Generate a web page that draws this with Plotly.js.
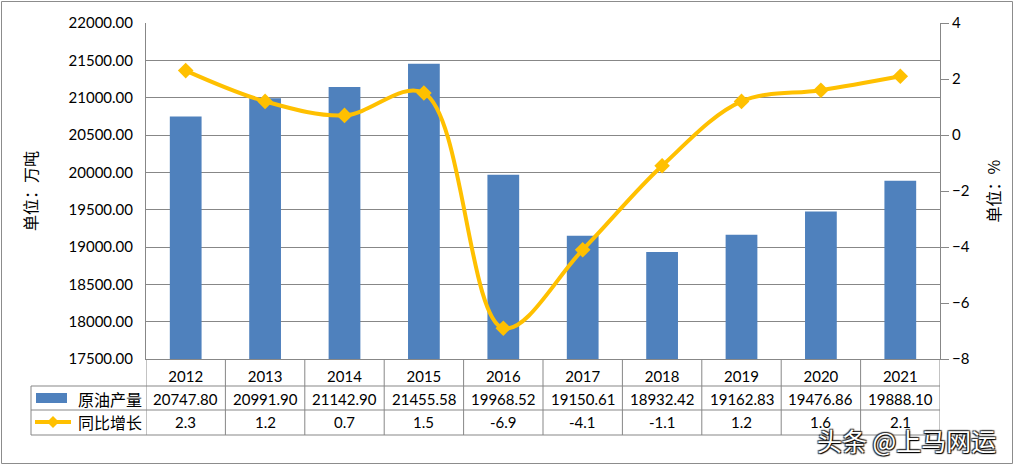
<!DOCTYPE html>
<html>
<head>
<meta charset="utf-8">
<script src="https://cdn.plot.ly/plotly-3.0.1.min.js"></script>
<style>
html,body{margin:0;padding:0;background:#fff;}
#chart{width:1014px;height:467px;}
</style>
</head>
<body>
<div id="chart"></div>
<script>
// ---- data ----
const categories = ['2012','2013','2014','2015','2016','2017','2018','2019','2020','2021'];
const production = [20747.80, 20991.90, 21142.90, 21455.58, 19968.52, 19150.61, 18932.42, 19162.83, 19476.86, 19888.10];
const growth = [2.3, 1.2, 0.7, 1.5, -6.9, -4.1, -1.1, 1.2, 1.6, 2.1];
const seriesNames = ['原油产量', '同比增长'];
const leftTitle = '单位：万吨';
const rightTitle = '单位：%';
const watermark = '头条 @上马网运';

// ---- layout helpers ----
const W = 1014, H = 467;
const mL = 146, mR = 74, mT = 23, mB = 108;
const pw = W - mL - mR, ph = H - mT - mB;
const px = v => (v - mL) / pw;           // pixel x -> paper x
const py = v => (H - mB - v) / ph;       // pixel y -> paper y

const BLUE = '#4F81BD', GOLD = '#FFC000', GRID = '#878787';
const NUMFONT = 'Lato, "Noto Sans CJK SC", sans-serif';
const CJKFONT = '"Noto Sans CJK SC", sans-serif';

const traces = [
  {
    type: 'bar', x: categories, y: production, name: seriesNames[0],
    marker: {color: BLUE}, yaxis: 'y', hoverinfo: 'skip'
  },
  {
    type: 'scatter', mode: 'lines+markers', x: categories, y: growth, name: seriesNames[1],
    yaxis: 'y2', line: {color: GOLD, width: 4, shape: 'spline', smoothing: 1},
    marker: {symbol: 'diamond', size: 12, color: GOLD}, hoverinfo: 'skip', cliponaxis: false
  }
];

// table rows
const rowY = {r1: py(398.5), r2: py(422)};
const bY = [py(359), py(386), py(410), py(435)];
const annotations = [];
production.forEach((v, i) => {
  annotations.push({x: i, xref: 'x', y: rowY.r1, yref: 'paper', text: v.toFixed(2),
    showarrow: false, xanchor: 'center', yanchor: 'middle', font: {family: NUMFONT, size: 15, color: '#000'}});
});
growth.forEach((v, i) => {
  annotations.push({x: i, xref: 'x', y: rowY.r2, yref: 'paper', text: v.toFixed(1),
    showarrow: false, xanchor: 'center', yanchor: 'middle', font: {family: NUMFONT, size: 15, color: '#000'}});
});
// legend labels in table
annotations.push({x: px(76), xref: 'paper', y: rowY.r1, yref: 'paper', text: seriesNames[0], showarrow: false,
  xanchor: 'left', yanchor: 'middle', font: {family: CJKFONT, size: 16, color: '#000'}});
annotations.push({x: px(76), xref: 'paper', y: rowY.r2, yref: 'paper', text: seriesNames[1], showarrow: false,
  xanchor: 'left', yanchor: 'middle', font: {family: CJKFONT, size: 16, color: '#000'}});
// watermark
annotations.push({x: px(906), xref: 'paper', y: py(440), yref: 'paper', text: watermark, showarrow: false,
  xanchor: 'center', yanchor: 'middle',
  font: {family: CJKFONT, size: 25, color: '#ffffff', shadow: '1px 1px 1px #000, -1px -1px 1px #333, 1px -1px 1px #333, -1px 1px 1px #333'}});

const shapes = [];
const ln = {color: GRID, width: 1};
// vertical lines of table (category boundaries)
for (let i = 0; i <= categories.length; i++) {
  shapes.push({type: 'line', xref: 'x', yref: 'paper', x0: i - 0.5, x1: i - 0.5, y0: bY[0], y1: bY[3], line: ln});
}
// legend column left edge
shapes.push({type: 'line', xref: 'paper', yref: 'paper', x0: px(31), x1: px(31), y0: bY[1], y1: bY[3], line: ln});
// horizontal lines
[1, 2, 3].forEach(k => {
  shapes.push({type: 'line', xref: 'paper', yref: 'paper', x0: px(31), x1: 1, y0: bY[k], y1: bY[k], line: ln});
});
// legend symbols
shapes.push({type: 'rect', xref: 'paper', yref: 'paper', x0: px(36), x1: px(67), y0: py(403), y1: py(393),
  line: {width: 0}, fillcolor: BLUE});
shapes.push({type: 'line', xref: 'paper', yref: 'paper', x0: px(35), x1: px(71), y0: py(422), y1: py(422),
  line: {color: GOLD, width: 4}});
const dc = [53, 422], dr = 6;
shapes.push({type: 'path', xref: 'paper', yref: 'paper',
  path: `M ${px(dc[0]-dr)} ${py(dc[1])} L ${px(dc[0])} ${py(dc[1]-dr)} L ${px(dc[0]+dr)} ${py(dc[1])} L ${px(dc[0])} ${py(dc[1]+dr)} Z`,
  fillcolor: GOLD, line: {width: 0}});
// outer border
shapes.push({type: 'rect', xref: 'paper', yref: 'paper', x0: px(1.5), x1: px(1012.5), y0: py(463.5), y1: py(1.5),
  line: {color: '#8c8c8c', width: 1}, fillcolor: 'rgba(0,0,0,0)'});

const layout = {
  width: W, height: H,
  margin: {l: mL, r: mR, t: mT, b: mB, pad: 0},
  paper_bgcolor: '#fff', plot_bgcolor: '#fff',
  showlegend: false,
  bargap: 0.6,
  font: {family: NUMFONT, size: 15, color: '#000'},
  xaxis: {
    type: 'category', range: [-0.5, categories.length - 0.5], autorange: false,
    showgrid: false, zeroline: false,
    showline: true, linecolor: GRID, linewidth: 1,
    ticks: '', ticklabelstandoff: 4,
    tickfont: {family: NUMFONT, size: 15, color: '#000'},
    fixedrange: true
  },
  yaxis: {
    range: [17500, 22000], autorange: false, dtick: 500, tick0: 17500, tickformat: '.2f',
    showgrid: true, gridcolor: GRID, gridwidth: 1, zeroline: false,
    showline: true, linecolor: GRID, linewidth: 1,
    ticks: 'outside', ticklen: 9, tickcolor: 'rgba(0,0,0,0)',
    tickfont: {family: NUMFONT, size: 15, color: '#000'},
    title: {text: leftTitle, font: {family: CJKFONT, size: 16, color: '#000'}, standoff: 26},
    fixedrange: true
  },
  yaxis2: {
    overlaying: 'y', side: 'right',
    range: [-8, 4], autorange: false, dtick: 2, tick0: -8,
    showgrid: false, zeroline: false,
    showline: true, linecolor: GRID, linewidth: 1,
    ticks: 'outside', ticklen: 8, tickcolor: GRID,
    tickfont: {family: NUMFONT, size: 15, color: '#000'},
    title: {text: rightTitle, font: {family: CJKFONT, size: 16, color: '#000'}, standoff: 20},
    fixedrange: true
  },
  annotations: annotations,
  shapes: shapes
};

Plotly.newPlot('chart', traces, layout, {displayModeBar: false, staticPlot: true});
</script>
</body>
</html>
